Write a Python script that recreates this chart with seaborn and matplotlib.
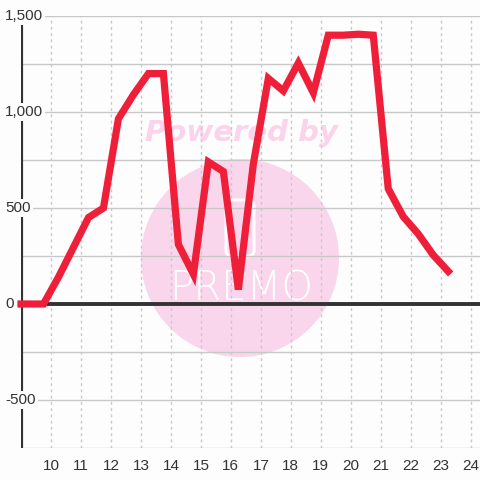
import matplotlib
matplotlib.use("Agg")
import matplotlib.pyplot as plt
import matplotlib.transforms as mtransforms
import seaborn as sns
from matplotlib.patches import Circle, FancyBboxPatch

# hour of day and value at that time
hours = [9.0, 9.25, 9.75, 10.25, 10.75, 11.25, 11.75, 12.25, 12.75, 13.25, 13.75,
         14.25, 14.75, 15.25, 15.75, 16.25, 16.75, 17.25, 17.75, 18.25, 18.75,
         19.25, 19.75, 20.25, 20.75, 21.25, 21.75, 22.25, 22.75, 23.25]
values = [0, 0, 0, 140, 295, 450, 500, 965, 1090, 1200, 1200,
          310, 155, 740, 690, 75, 730, 1175, 1110, 1255, 1100,
          1400, 1400, 1405, 1400, 600, 455, 365, 255, 170]

x_ticks = list(range(10, 25))
y_grid = list(range(-750, 1501, 250))
y_labels = [1500, 1000, 500, 0, -500]

sns.set_style("white")
plt.rcParams['font.family'] = ['Liberation Sans', 'DejaVu Sans']

bg = '#fcfdfc'
fig = plt.figure(figsize=(4.8, 4.8), dpi=100, facecolor=bg)
ax = fig.add_axes([21 / 480, 32 / 480, 1 - 21 / 480, 1 - 48 / 480])
ax.set_facecolor(bg)

# watermark
ax.add_patch(Circle((0.5, 0.4625), 99 / 480, transform=fig.transFigure,
                    facecolor='#fad6ec', edgecolor='none', zorder=0.1))
ax.text(0.503, 1 - 133 / 480, "Powered by", transform=fig.transFigure,
        family='DejaVu Sans', weight='bold', style='italic', fontsize=21,
        color='#fbd3ea', ha='center', va='center', zorder=0.2)
ax.add_patch(FancyBboxPatch((226 / 480, 1 - 256 / 480), 28 / 480, 56 / 480,
                            boxstyle="round,pad=0,rounding_size=0.012",
                            transform=fig.transFigure, facecolor='none',
                            edgecolor='white', linewidth=2.2, zorder=0.2))
ax.text(0.502, 1 - 289 / 480, "PREMO", transform=fig.transFigure,
        family='DejaVu Sans', weight='light', fontsize=29, color='white',
        ha='center', va='center', zorder=0.2)

# grid
for y in y_grid:
    ax.axhline(y, color='#c8c8c8', linewidth=1, zorder=0.5)
for x in x_ticks:
    ax.axvline(x, color='#c8c8c8', linewidth=1, linestyle=(0, (2, 2.5)), zorder=0.5)
ax.axhline(0, color='#333333', linewidth=2.8, zorder=2)
ax.axvline(9.0, color='#333333', linewidth=3, zorder=2)

sns.lineplot(x=hours, y=values, ax=ax, color='#ef1f3a', linewidth=5.2,
             solid_joinstyle='miter', solid_capstyle='projecting', zorder=3,
             clip_on=False)

ax.set_xlim(9.0, 24.31)
ax.set_ylim(-750, 1500)
for s in ax.spines.values():
    s.set_visible(False)
ax.set_xticks(x_ticks)
ax.set_xticklabels([str(t) for t in x_ticks], fontsize=11, color='#333333')
ax.tick_params(axis='x', length=0, pad=8)
ax.set_yticks([])
ax.set_xlabel("")
ax.set_ylabel("")

label_tf = mtransforms.blended_transform_factory(fig.transFigure, ax.transData)
for v in y_labels:
    ax.text(5 / 480, v, f"{v:,}", transform=label_tf,
            fontsize=11, color='#333333', ha='left', va='center', zorder=4,
            bbox=dict(facecolor=bg, edgecolor='none', pad=1.5), clip_on=False)

fig.savefig("out.png", dpi=100, facecolor=bg)
